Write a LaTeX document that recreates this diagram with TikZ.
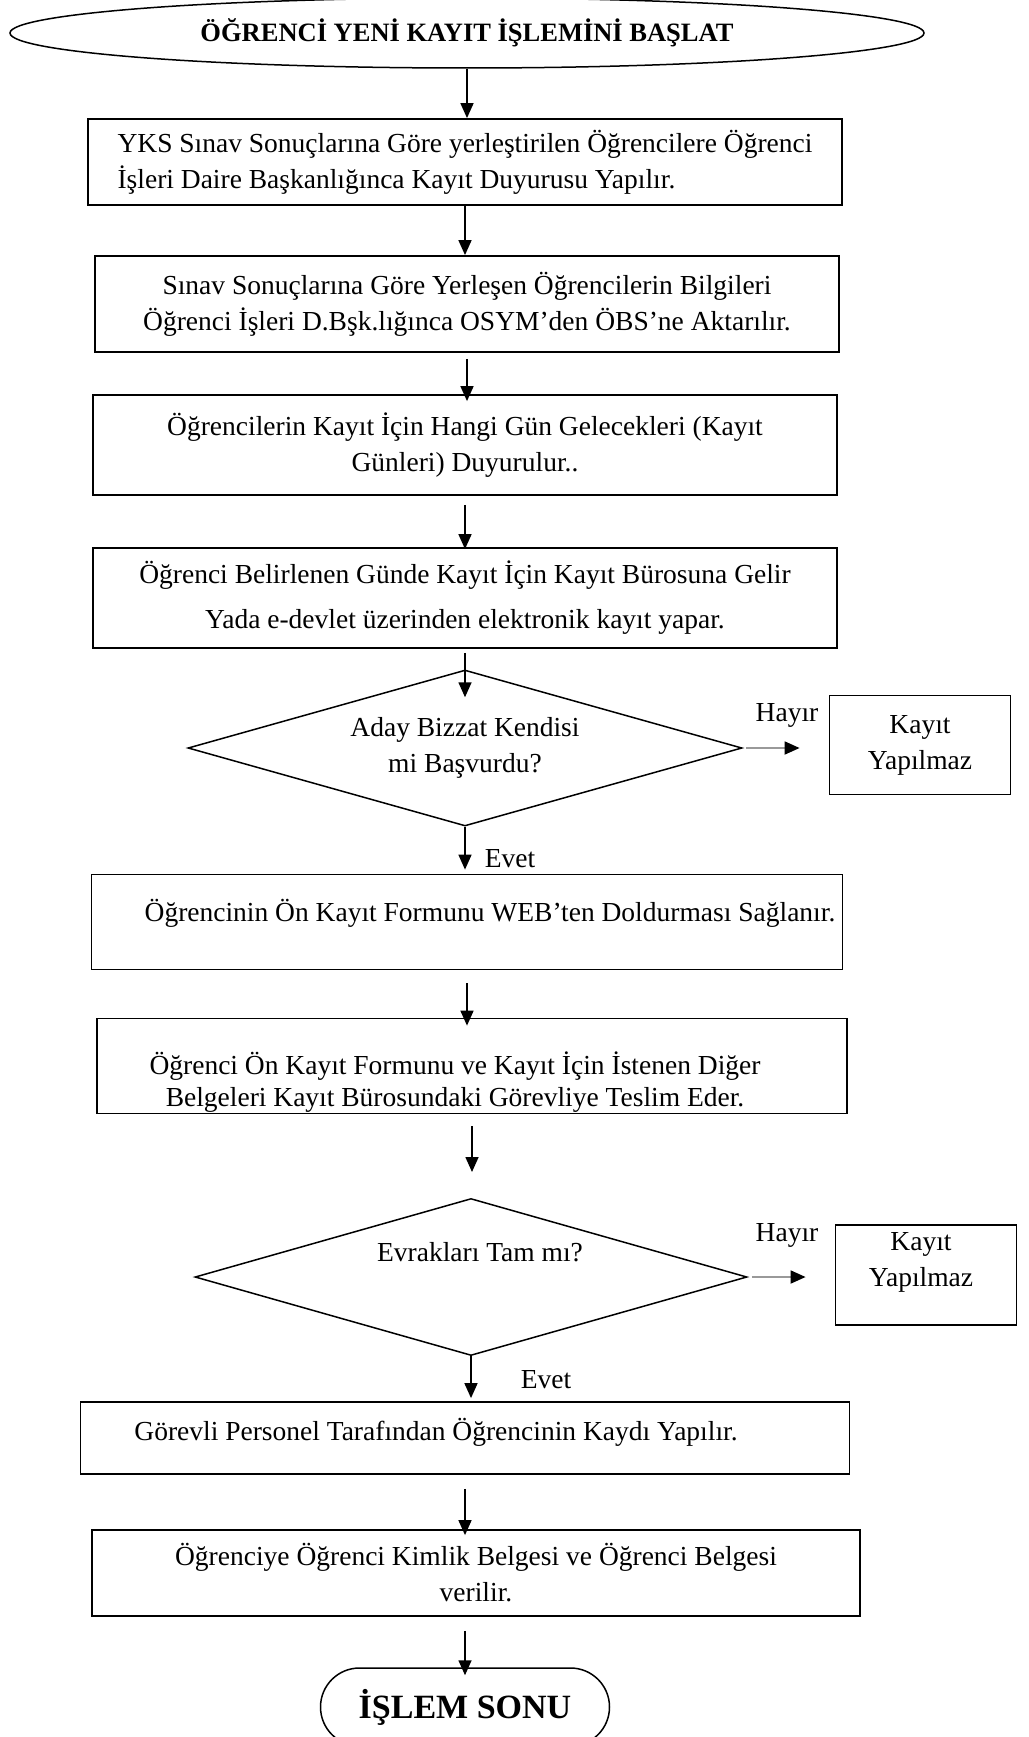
\documentclass[tikz,border=0pt]{standalone}
\usepackage{fontspec}
\setmainfont{Liberation Serif}
\usetikzlibrary{arrows.meta,shapes.geometric}

\tikzset{
  box/.style={draw, line width=1.8pt, inner sep=0pt, align=center},
  karar/.style={diamond, draw, line width=1.5pt, inner sep=0pt, aspect=3.55},
  yazi/.style={inner sep=0pt, align=center},
  ok/.style={line width=1.6pt, -{Triangle[length=15pt,width=13pt]}},
  hok/.style={line width=1.8pt, draw=gray!80, -{Triangle[length=15pt,width=13pt,color=black]}}
}

\begin{document}
\begin{tikzpicture}[x=1pt, y=-1pt, font=\fontsize{27.5}{36}\selectfont]
\useasboundingbox (0,0) rectangle (1028,1737);

% baslangic ve ilk kutular
\node[ellipse, draw, line width=1.5pt, minimum width=914pt, minimum height=70pt, font=\fontsize{26.5}{36}\selectfont\bfseries] (bas) at (467,33) {ÖĞRENCİ YENİ KAYIT İŞLEMİNİ BAŞLAT};
\node[box, align=left, minimum width=754pt, minimum height=86pt] (b1) at (465,162) {YKS Sınav Sonuçlarına Göre yerleştirilen Öğrencilere Öğrenci\\İşleri Daire Başkanlığınca Kayıt Duyurusu Yapılır.};
\node[box, minimum width=744pt, minimum height=96pt] (b2) at (467,304) {Sınav Sonuçlarına Göre Yerleşen Öğrencilerin Bilgileri\\Öğrenci İşleri D.Bşk.lığınca OSYM’den ÖBS’ne Aktarılır.};
\node[box, minimum width=744pt, minimum height=100pt] (b3) at (465,445) {Öğrencilerin Kayıt İçin Hangi Gün Gelecekleri (Kayıt\\Günleri) Duyurulur..};
\node[box, minimum width=744pt, minimum height=100pt] (b4) at (465,598) {Öğrenci Belirlenen Günde Kayıt İçin Kayıt Bürosuna Gelir\\[9pt]Yada e-devlet üzerinden elektronik kayıt yapar.};

% birinci karar
\node[karar, align=center, minimum width=554pt, minimum height=156pt] (d1) at (465,748) {Aday Bizzat Kendisi\\mi Başvurdu?};
\node[yazi] (h1) at (787,715) {Hayır};
\node[box, minimum width=181pt, minimum height=99pt] (k1) at (920,745) {Kayıt\\Yapılmaz};
\node[yazi] (e1) at (510,859) {Evet};

\node[box, minimum width=751pt, minimum height=95pt] (b5) at (467,922) {};
\node[yazi] (t5) at (490,913) {Öğrencinin Ön Kayıt Formunu WEB’ten Doldurması Sağlanır.};
\node[box, minimum width=750pt, minimum height=95pt] (b6) at (472,1066) {};
\node[yazi, font=\fontsize{27.5}{32}\selectfont] (t6) at (455,1082) {Öğrenci Ön Kayıt Formunu ve Kayıt İçin İstenen Diğer\\Belgeleri Kayıt Bürosundaki Görevliye Teslim Eder.};
\coordinate (bos) at (472,1172);

% ikinci karar
\node[karar, minimum width=552pt, minimum height=157pt] (d2) at (471,1277) {};
\node[yazi] (t8) at (480,1252) {Evrakları Tam mı?};
\node[yazi] (h2) at (787,1235) {Hayır};
\node[box, minimum width=181pt, minimum height=100pt] (k2) at (926,1275) {};
\node[yazi] (k2t) at (921,1262) {Kayıt\\Yapılmaz};
\node[yazi] (e2) at (546,1380) {Evet};

% son kutular
\node[box, minimum width=769pt, minimum height=72pt] (b7) at (465,1438) {};
\node[yazi] (t7) at (436,1432) {Görevli Personel Tarafından Öğrencinin Kaydı Yapılır.};
\node[box, minimum width=768pt, minimum height=86pt] (b8) at (476,1573) {Öğrenciye Öğrenci Kimlik Belgesi ve Öğrenci Belgesi\\verilir.};
\node[draw, line width=1.5pt, rounded corners=39pt, minimum width=289pt, minimum height=78pt, font=\fontsize{34}{36}\selectfont\bfseries] (son) at (465,1707) {İŞLEM SONU};

% oklar
\draw[ok] (bas) -- (bas |- b1.north);
\draw[ok] (b1.south) -- (b1.south |- b2.north);
\draw[ok, shorten <=6pt, shorten >=-7pt] (b2.south) -- (b2.south |- b3.north);
\draw[ok, shorten <=9pt, shorten >=-2pt] (b3.south) -- (b3.south |- b4.north);
\draw[ok, shorten <=4pt] (b4.south) -- ([yshift=-28pt]d1.north);
\draw[hok] ([xshift=3pt]d1.east) -- ([xshift=-29pt]k1.west |- d1.east);
\draw[ok, shorten >=4pt] (d1.south) -- (d1.south |- b5.north);
\draw[ok, shorten <=13pt, shorten >=-8pt] (b5.south) -- (b5.south |- b6.north);
\draw[ok, shorten <=12pt] (b6.south) -- (bos);
\draw[hok] ([xshift=4pt]d2.east) -- ([xshift=-29pt]k2.west |- d2.east);
\draw[ok, shorten >=3pt] (d2.south) -- (d2.south |- b7.north);
\draw[ok, shorten <=14pt, shorten >=-6pt] (b7.south) -- (b7.south |- b8.north);
\draw[ok, shorten <=14pt, shorten >=-8pt] (son.north |- b8.south) -- (son.north);
\end{tikzpicture}
\end{document}
